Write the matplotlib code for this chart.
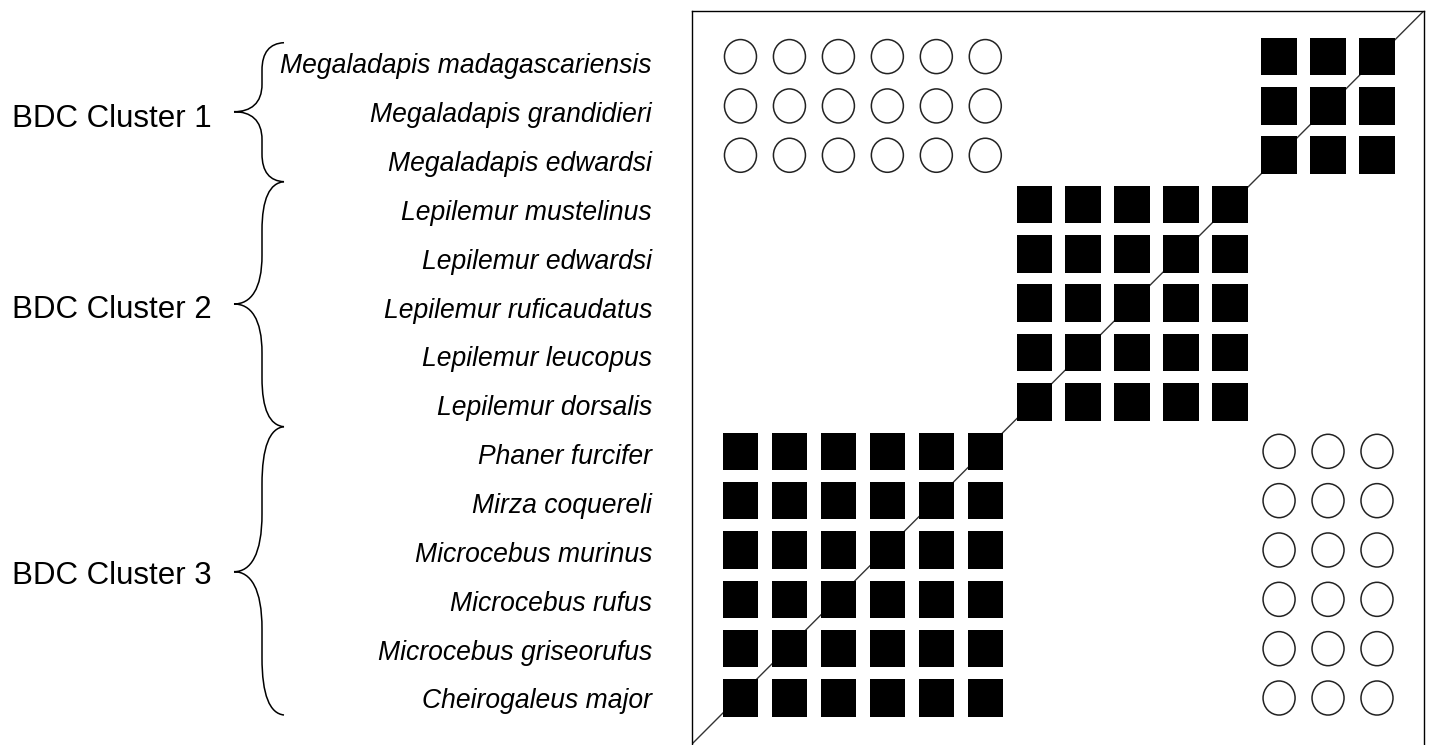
import matplotlib
matplotlib.use("Agg")
import matplotlib.pyplot as plt
from matplotlib.patches import Rectangle, Ellipse, PathPatch
from matplotlib.path import Path

# ---------------- data ----------------
species = [
    "Megaladapis madagascariensis",
    "Megaladapis grandidieri",
    "Megaladapis edwardsi",
    "Lepilemur mustelinus",
    "Lepilemur edwardsi",
    "Lepilemur ruficaudatus",
    "Lepilemur leucopus",
    "Lepilemur dorsalis",
    "Phaner furcifer",
    "Mirza coquereli",
    "Microcebus murinus",
    "Microcebus rufus",
    "Microcebus griseorufus",
    "Cheirogaleus major",
]
cluster_names = ["BDC Cluster 1", "BDC Cluster 2", "BDC Cluster 3"]
cluster_sizes = [3, 5, 6]

# cell matrix: rows top->bottom (species order), columns left->right
# 's' = filled square, 'o' = open circle, '.' = empty
cells = [
    "oooooo.....sss",
    "oooooo.....sss",
    "oooooo.....sss",
    "......sssss...",
    "......sssss...",
    "......sssss...",
    "......sssss...",
    "......sssss...",
    "ssssss.....ooo",
    "ssssss.....ooo",
    "ssssss.....ooo",
    "ssssss.....ooo",
    "ssssss.....ooo",
    "ssssss.....ooo",
]

# ---------------- figure ----------------
W, H = 1432, 745
fig = plt.figure(figsize=(W / 100, H / 100), dpi=100)
fig.patch.set_facecolor("white")

ax_l, ax_r, ax_t, ax_b = 692, 1424, 10.7, 744
ax = fig.add_axes([ax_l / W, (H - ax_b) / H, (ax_r - ax_l) / W, (ax_b - ax_t) / H])
ax.set_xlim(0.01, 14.96)
ax.set_ylim(0.068, 14.93)
ax.set_xticks([])
ax.set_yticks([])
for side in ["left", "right", "top"]:
    ax.spines[side].set_linewidth(1.0)
    ax.spines[side].set_color("black")
ax.spines["bottom"].set_visible(False)

n = len(species)
sq_w, sq_h = 0.725, 0.762
ci_w, ci_h = 0.654, 0.69
for r, row in enumerate(cells):
    y = n - r
    for c, ch in enumerate(row):
        x = c + 1
        if ch == "s":
            ax.add_patch(Rectangle((x - sq_w / 2, y - sq_h / 2), sq_w, sq_h,
                                   facecolor="black", edgecolor="none", zorder=3))
        elif ch == "o":
            ax.add_patch(Ellipse((x, y), ci_w, ci_h, facecolor="none",
                                 edgecolor="#222222", linewidth=1.1, zorder=3))

ax.plot([0, 1], [0, 1], transform=ax.transAxes, color="#333333", linewidth=1.0, zorder=2)

# ---------------- overlay for labels & braces (pixel coords) ----------------
ov = fig.add_axes([0, 0, 1, 1], zorder=-1)
ov.set_xlim(0, W)
ov.set_ylim(H, 0)
ov.axis("off")
ov.patch.set_visible(False)

label_font = ["Liberation Sans", "DejaVu Sans"]
for k, name in enumerate(species):
    ov.text(652, 73.3 + 48.85 * k, name, ha="right", va="baseline",
            fontsize=19.1, fontstyle="italic", family=label_font, color="black")

brace_spans = [(42.7, 181.7, 111.7), (181.7, 426.7, 304.0), (426.7, 715.0, 571.7)]
cluster_baselines = [126.7, 318.0, 584.0]
xe, xm, xt = 284, 262, 234


def brace_path(y0, y1, ym):
    h1 = ym - y0
    h2 = y1 - ym
    verts = [
        (xe, y0),
        (xm + 0.35 * (xe - xm), y0 + 0.01 * h1), (xm, y0 + 0.14 * h1), (xm, y0 + 0.40 * h1),
        (xm, ym - 0.40 * h1),
        (xm, ym - 0.12 * h1), (xm - 0.40 * (xm - xt), ym), (xt, ym),
        (xm - 0.40 * (xm - xt), ym), (xm, ym + 0.12 * h2), (xm, ym + 0.40 * h2),
        (xm, y1 - 0.40 * h2),
        (xm, y1 - 0.14 * h2), (xm + 0.35 * (xe - xm), y1 - 0.01 * h2), (xe, y1),
    ]
    codes = [Path.MOVETO,
             Path.CURVE4, Path.CURVE4, Path.CURVE4,
             Path.LINETO,
             Path.CURVE4, Path.CURVE4, Path.CURVE4,
             Path.CURVE4, Path.CURVE4, Path.CURVE4,
             Path.LINETO,
             Path.CURVE4, Path.CURVE4, Path.CURVE4]
    return Path(verts, codes)


for (y0, y1, ym), name, yb in zip(brace_spans, cluster_names, cluster_baselines):
    ov.add_patch(PathPatch(brace_path(y0, y1, ym), facecolor="none",
                           edgecolor="black", linewidth=1.1))
    ov.text(12, yb, name, ha="left", va="baseline", fontsize=22.5,
            family=label_font, color="black")

fig.savefig("out.png", dpi=100, facecolor="white")
